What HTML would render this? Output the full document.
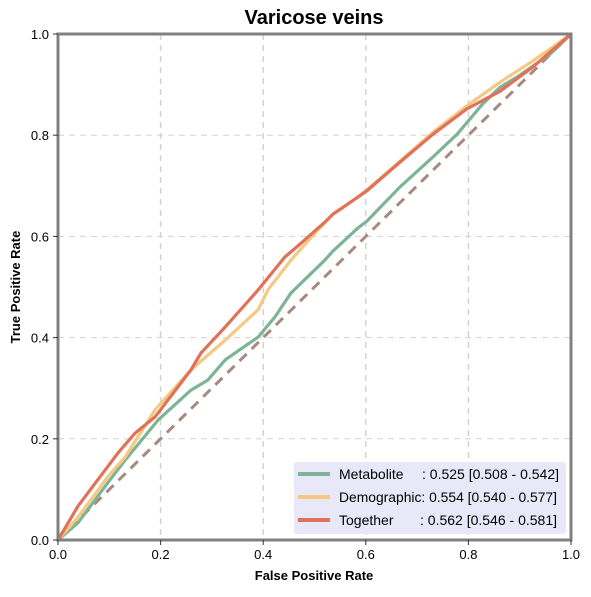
<!DOCTYPE html>
<html><head><meta charset="utf-8"><style>
body{margin:0;background:#fff;font-family:"Liberation Sans",Arial,sans-serif}
svg text{font-family:"Liberation Sans",Arial,sans-serif}
</style></head><body>
<svg width="591" height="592" viewBox="0 0 591 592">
<g id="grid"></g>
<line x1="58" y1="540" x2="571" y2="34" stroke="#a58a80" stroke-width="3" stroke-dasharray="10,7"/>
<g id="curves"></g>
<rect x="58" y="34" width="513" height="506" fill="none" stroke="#808080" stroke-width="3"/>
<g id="ticks"></g>
<text x="314" y="24" font-size="20" font-weight="bold" text-anchor="middle">Varicose veins</text>
<text x="314" y="580" font-size="13" font-weight="bold" text-anchor="middle">False Positive Rate</text>
<text x="20" y="287" font-size="13" font-weight="bold" text-anchor="middle" transform="rotate(-90 20 287)">True Positive Rate</text>
<g>
<rect x="294" y="462" width="272" height="72" rx="3" fill="#e8e8f8"/>
<g><line x1="298" y1="474" x2="330" y2="474" stroke="#7db497" stroke-width="4"/><text x="339" y="479" font-size="14">Metabolite</text><text x="422" y="479" font-size="14">: 0.525 [0.508 - 0.542]</text></g>
<g><line x1="298" y1="497" x2="330" y2="497" stroke="#f5c982" stroke-width="4"/><text x="339" y="502" font-size="14" textLength="218" lengthAdjust="spacingAndGlyphs">Demographic: 0.554 [0.540 - 0.577]</text></g>
<g><line x1="298" y1="520" x2="330" y2="520" stroke="#e07259" stroke-width="4"/><text x="339" y="525" font-size="14">Together</text><text x="420" y="525" font-size="14">: 0.562 [0.546 - 0.581]</text></g>
</g>
</svg>
<script>
const ticks=[0,0.2,0.4,0.6,0.8,1.0];
const tickLabels=["0.0","0.2","0.4","0.6","0.8","1.0"];
const metaFpr=[0,0.039,0.097,0.131,0.195,0.259,0.292,0.326,0.390,0.423,0.454,0.520,0.536,0.585,0.602,0.667,0.731,0.778,0.828,0.862,0.895,0.959,1];
const metaTpr=[0,0.034,0.113,0.158,0.237,0.296,0.316,0.356,0.401,0.441,0.488,0.553,0.571,0.617,0.630,0.698,0.757,0.802,0.862,0.895,0.915,0.960,1];
const demoFpr=[0,0.039,0.097,0.131,0.189,0.259,0.326,0.390,0.409,0.454,0.507,0.536,0.585,0.602,0.667,0.731,0.797,0.862,0.926,1];
const demoTpr=[0,0.045,0.125,0.164,0.257,0.336,0.395,0.455,0.494,0.553,0.613,0.644,0.678,0.692,0.749,0.806,0.858,0.905,0.947,1];
const togFpr=[0,0.039,0.117,0.150,0.189,0.259,0.279,0.326,0.390,0.442,0.472,0.520,0.536,0.585,0.602,0.667,0.731,0.797,0.862,0.926,1];
const togTpr=[0,0.067,0.172,0.211,0.243,0.336,0.370,0.421,0.494,0.559,0.585,0.628,0.644,0.678,0.690,0.747,0.802,0.852,0.887,0.935,1];
const X=v=>58+v*513, Y=v=>540-v*506;
const NS="http://www.w3.org/2000/svg";
const grid=document.getElementById('grid'), tk=document.getElementById('ticks'), cv=document.getElementById('curves');
ticks.forEach((t,i)=>{
  if(t>0&&t<1){
    let gl=document.createElementNS(NS,'line');
    gl.setAttribute('x1',X(t));gl.setAttribute('x2',X(t));gl.setAttribute('y1',34);gl.setAttribute('y2',540);
    gl.setAttribute('stroke','#d3d3d3');gl.setAttribute('stroke-width','1.5');gl.setAttribute('stroke-dasharray','6,5');
    
    
    grid.appendChild(gl);
    let hl=document.createElementNS(NS,'line');
    hl.setAttribute('y1',Y(t));hl.setAttribute('y2',Y(t));hl.setAttribute('x1',58);hl.setAttribute('x2',571);
    hl.setAttribute('stroke','#d3d3d3');hl.setAttribute('stroke-width','1');hl.setAttribute('stroke-dasharray','6,5');
    
    
    grid.appendChild(hl);
  }
  let xt=document.createElementNS(NS,'line');
  xt.setAttribute('x1',X(t));xt.setAttribute('x2',X(t));xt.setAttribute('y1',540);xt.setAttribute('y2',545);xt.setAttribute('stroke','#333');
  
  
  tk.appendChild(xt);
  let xl=document.createElementNS(NS,'text');
  xl.setAttribute('x',X(t));xl.setAttribute('y',559);xl.setAttribute('font-size','13');xl.setAttribute('text-anchor','middle');xl.textContent=tickLabels[i];
  
  
  tk.appendChild(xl);
  let yt=document.createElementNS(NS,'line');
  yt.setAttribute('x1',53);yt.setAttribute('x2',58);yt.setAttribute('y1',Y(t));yt.setAttribute('y2',Y(t));yt.setAttribute('stroke','#333');
  
  
  tk.appendChild(yt);
  let yl=document.createElementNS(NS,'text');
  yl.setAttribute('x',49);yl.setAttribute('y',Y(t)+5);yl.setAttribute('font-size','13');yl.setAttribute('text-anchor','end');yl.textContent=tickLabels[i];
  
  
  tk.appendChild(yl);
});
function curve(fx,ty,color,name){
  let p=document.createElementNS(NS,'polyline');
  p.setAttribute('points',fx.map((f,i)=>X(f)+','+Y(ty[i])).join(' '));
  p.setAttribute('fill','none');p.setAttribute('stroke',color);p.setAttribute('stroke-width','3.2');p.setAttribute('stroke-linejoin','round');
  
  
  cv.appendChild(p);
}
curve(metaFpr,metaTpr,'#7db497','metabolite-curve');
curve(demoFpr,demoTpr,'#f5c982','demographic-curve');
curve(togFpr,togTpr,'#e07259','together-curve');
</script>
</body></html>
